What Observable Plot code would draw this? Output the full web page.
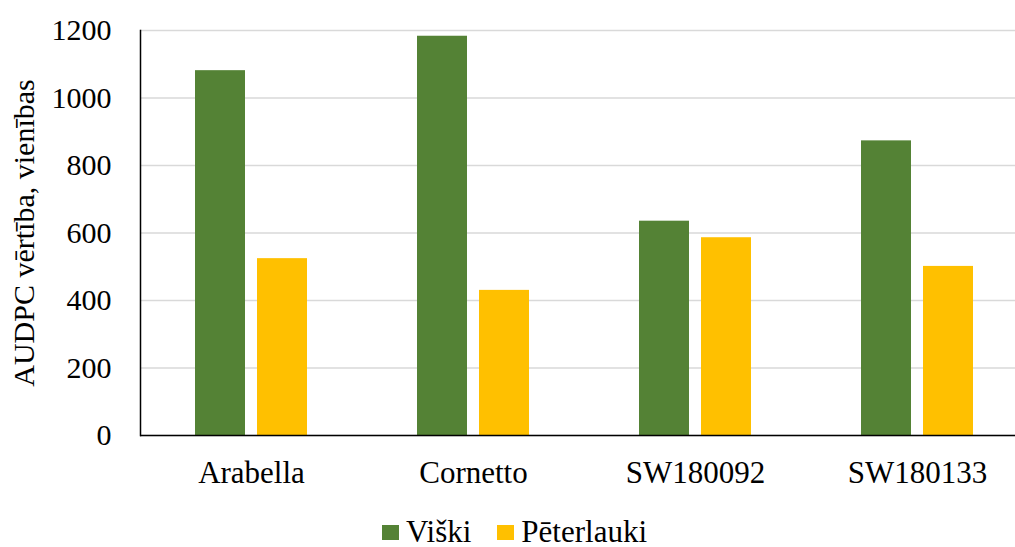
<!DOCTYPE html>
<html>
<head>
<meta charset="utf-8">
<script src="https://cdn.jsdelivr.net/npm/d3@7"></script>
<script src="https://cdn.jsdelivr.net/npm/@observablehq/plot@0.6"></script>
<style>
  html, body { margin: 0; padding: 0; background: #fff; overflow: hidden; }
  body { width: 1015px; height: 547px; font-family: "Liberation Serif", "Times New Roman", serif; color: #000; }
  #legend { display: flex; align-items: center; height: 30px; padding-top: 7px; margin-left: 382px; font-size: 31px; line-height: 30px; }
  #legend .item { display: flex; align-items: center; margin-right: 26px; }
  #legend .swatch { width: 17px; height: 15px; margin-right: 7px; }
</style>
</head>
<body>
<div id="chart"></div>
<div id="legend"></div>
<script>
// Varieties, sites and AUDPC values per site
const categories = ["Arabella", "Cornetto", "SW180092", "SW180133"];
const series = ["Viški", "Pēterlauki"];
const viski = [1081, 1183, 635, 873];
const peterlauki = [524, 430, 586, 501];
const yTicks = [0, 200, 400, 600, 800, 1000, 1200];
const colors = ["#548235", "#FFC000"];

const rows = categories.flatMap((c, i) => [
  {category: c, site: series[0], value: viski[i]},
  {category: c, site: series[1], value: peterlauki[i]}
]);

const chart = Plot.plot({
  width: 1015,
  height: 510,
  marginLeft: 140,
  marginRight: -13,
  marginTop: 30,
  marginBottom: 75,
  style: {fontFamily: "'Liberation Serif', 'Times New Roman', serif", fontSize: "30px", color: "#000", background: "#fff", overflow: "hidden"},
  fx: {domain: categories, padding: 0, label: null},
  x: {domain: series, paddingInner: 0.2, paddingOuter: 0.874, axis: null},
  y: {domain: [0, 1200]},
  color: {domain: series, range: colors},
  marks: [
    Plot.gridY(yTicks, {stroke: "#d9d9d9", strokeOpacity: 1, strokeWidth: 1.5}),
    Plot.barY(rows, {fx: "category", x: "site", y: "value", fill: "site"}),
    Plot.ruleY([0], {stroke: "#000", strokeWidth: 1.5}),
    Plot.frame({anchor: "left", facetAnchor: "left", stroke: "#000", strokeWidth: 1.5}),
    Plot.axisY(yTicks, {
      tickSize: 0, tickPadding: 29, fontSize: 30, tickFormat: d => String(d),
      label: "AUDPC vērtība, vienības", labelAnchor: "center", labelArrow: "none", labelOffset: 128
    }),
    Plot.axisFx({anchor: "bottom", tickSize: 0, tickPadding: 25, fontSize: 31, label: null})
  ]
});
document.getElementById("chart").appendChild(chart);

// Legend below the chart
const legend = d3.select("#legend");
series.forEach((s, i) => {
  const item = legend.append("div").attr("class", "item");
  item.append("div").attr("class", "swatch").style("background", colors[i]);
  item.append("span").text(s);
});
</script>
</body>
</html>
